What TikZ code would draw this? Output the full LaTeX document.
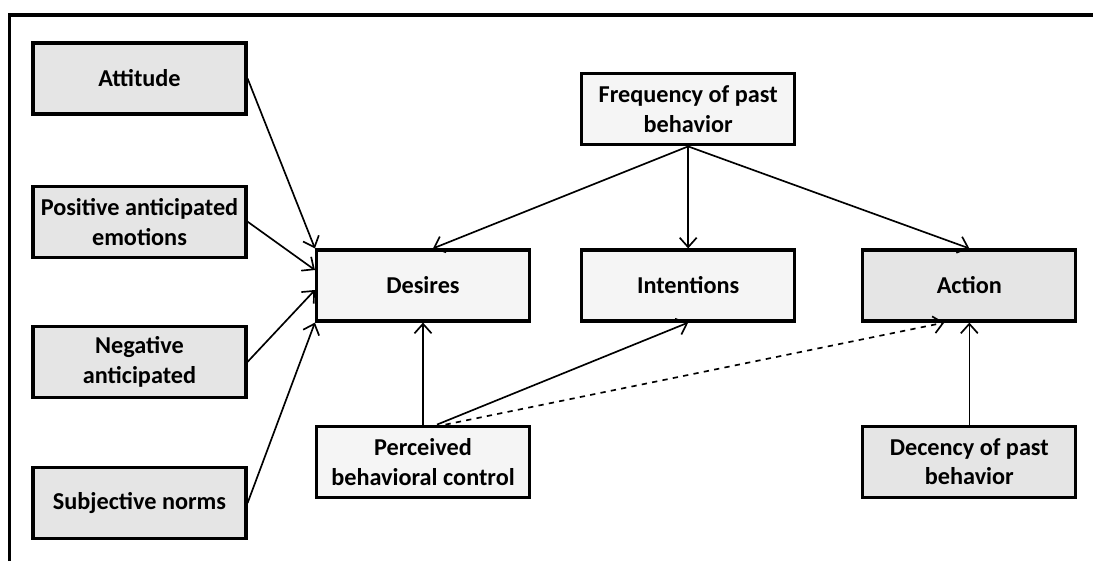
\documentclass[tikz,border=0pt]{standalone}
\usepackage{fontspec}
\setmainfont{Carlito}
\usepackage{tikz}
\usetikzlibrary{arrows.meta, positioning}

\begin{document}
\begin{tikzpicture}[
    node distance=1.35cm and 1.4cm,
    box/.style={draw, line width=1.8pt, minimum width=4.26cm, minimum height=1.42cm, inner sep=2pt, align=center,
        font=\fontsize{13.8}{17}\selectfont\bfseries},
    dark/.style={box, fill=black!10},
    light/.style={box, fill=black!4},
    arrow/.style={-{Straight Barb[length=1.9mm, width=3.4mm]}, line width=0.95pt}
]
\useasboundingbox (0,0) rectangle (21.86,-11.22);
% frame
\draw[line width=1.9pt] (0.19,-11.22) |- (21.86,-0.30);

% left column
\node[dark] (attitude) at (2.79,-1.57) {Attitude};
\node[dark, below=1.38cm of attitude] (positive) {Positive anticipated\\emotions};
\node[dark, below=1.32cm of positive] (negative) {Negative\\anticipated};
\node[dark, below=1.34cm of negative] (subjective) {Subjective norms};

% middle row
\node[light] (desires) at (8.46,-5.71) {Desires};
\node[light, right=0.98cm of desires] (intentions) {Intentions};
\node[dark, right=1.3cm of intentions] (action) {Action};
\node[light, above=2.04cm of intentions] (frequency) {Frequency of past\\behavior};
\node[light, below=2.04cm of desires] (perceived) {Perceived\\behavioral control};
\node[dark, below=2.04cm of action] (decency) {Decency of past\\behavior};

% connectors
\draw[arrow] (attitude.east) -- (desires.north west);
\draw[arrow] (positive.east) -- ([yshift=0.31cm]desires.west);
\draw[arrow] (negative.east) -- ([yshift=-0.09cm]desires.west);
\draw[arrow] (subjective.east) -- (desires.south west);
\draw[arrow] (frequency.south) -- ([xshift=0.2cm]desires.north);
\draw[arrow] (frequency.south) -- (intentions.north);
\draw[arrow] (frequency.south) -- (action.north);
\draw[arrow] (perceived.north) -- (desires.south);
\draw[arrow] ([xshift=0.28cm]perceived.north) -- (intentions.south);
\draw[arrow, dashed] ([xshift=0.45cm]perceived.north) -- ([xshift=-0.5cm]action.south);
\draw[arrow] (decency.north) -- (action.south);
\end{tikzpicture}
\end{document}
